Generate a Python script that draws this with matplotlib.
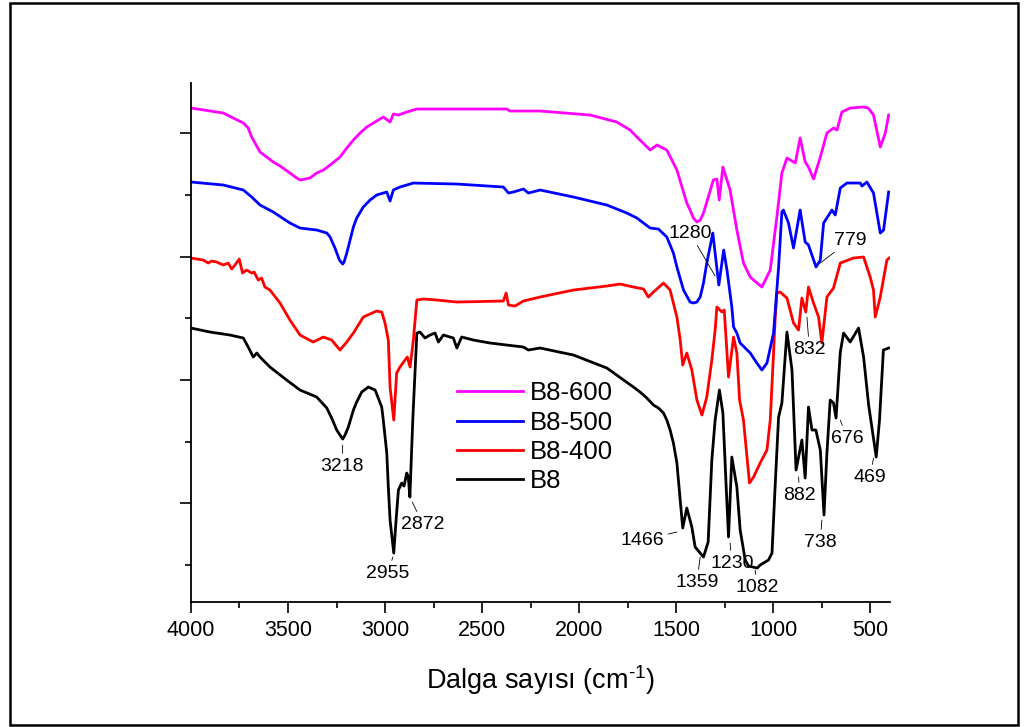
import matplotlib
matplotlib.use("Agg")
import matplotlib.pyplot as plt
from matplotlib.patches import Rectangle
from matplotlib.ticker import MultipleLocator

# FTIR spectra (wavenumber in cm-1, offset transmittance in arbitrary units)
b8_600_wn = [4000, 3833, 3782, 3730, 3705, 3687, 3670, 3644, 3610, 3576, 3541, 3490,
             3455, 3438, 3412, 3387, 3352, 3318, 3283, 3232, 3197, 3163, 3129, 3094,
             3060, 3009, 2974, 2957, 2931, 2888, 2836, 2600, 2373, 2356, 2201, 1943,
             1806, 1737, 1702, 1634, 1599, 1548, 1496, 1445, 1428, 1411, 1393, 1376,
             1359, 1308, 1290, 1278, 1259, 1222, 1187, 1153, 1118, 1101, 1058, 1015,
             981, 955, 929, 886, 861, 835, 818, 792, 757, 723, 689, 671, 646, 603,
             534, 510, 483, 448, 422, 405]
b8_600_t = [494, 489, 484, 479, 474, 465, 459, 450, 445, 440, 436, 429,
            424, 422, 423, 424, 429, 432, 437, 445, 454, 462, 469, 475,
            479, 485, 480, 488, 487, 490, 493, 493, 493, 491, 491, 487,
            480, 472, 465, 452, 457, 452, 432, 399, 392, 384, 380, 382,
            389, 422, 423, 402, 435, 412, 372, 339, 325, 322, 315, 332,
            385, 429, 444, 439, 464, 440, 435, 423, 445, 469, 474, 472, 490, 494,
            495, 494, 487, 455, 469, 487]

b8_500_wn = [4000, 3833, 3730, 3687, 3644, 3576, 3490, 3438, 3352, 3300, 3283, 3258,
             3235, 3218, 3211, 3197, 3180, 3163, 3146, 3112, 3077, 3043, 2991, 2974,
             2957, 2923, 2854, 2630, 2390, 2364, 2339, 2287, 2261, 2201, 2029, 1857,
             1754, 1702, 1634, 1591, 1548, 1514, 1496, 1462, 1428, 1411, 1393, 1376,
             1359, 1342, 1311, 1280, 1255, 1238, 1213, 1204, 1187, 1170, 1118, 1084,
             1058, 1032, 998, 972, 955, 947, 921, 895, 861, 835, 818, 779, 757, 740,
             697, 680, 654, 620, 551, 542, 517, 483, 448, 431, 405]
b8_500_t = [420, 417, 412, 405, 397, 390, 379, 374, 372, 369, 365, 354,
            342, 338, 340, 349, 362, 375, 384, 395, 402, 407, 410, 401,
            412, 415, 419, 418, 415, 409, 410, 413, 409, 412, 405, 397,
            389, 384, 374, 373, 365, 349, 335, 312, 300, 299, 300, 305,
            319, 339, 369, 317, 352, 332, 295, 275, 269, 259, 249, 239,
            232, 239, 269, 335, 390, 392, 379, 354, 392, 360, 357, 335, 342, 379,
            392, 387, 414, 419, 419, 416, 420, 409, 369, 372, 410]

b8_400_wn = [4000, 3937, 3911, 3893, 3868, 3833, 3808, 3790, 3773, 3751, 3734, 3713,
             3687, 3675, 3653, 3636, 3619, 3593, 3541, 3490, 3438, 3370, 3318, 3275,
             3232, 3197, 3163, 3112, 3043, 3017, 3000, 2983, 2974, 2955, 2940, 2923,
             2897, 2885, 2871, 2854, 2845, 2836, 2802, 2733, 2630, 2390, 2376, 2364,
             2330, 2287, 2201, 2029, 1857, 1789, 1720, 1668, 1643, 1617, 1565, 1531,
             1496, 1479, 1466, 1445, 1419, 1393, 1367, 1342, 1316, 1299, 1290, 1264,
             1252, 1230, 1204, 1187, 1173, 1153, 1122, 1101, 1067, 1032, 1015, 998,
             990, 981, 964, 929, 895, 869, 852, 832, 818, 792, 766, 749, 723, 689,
             654, 586, 534, 500, 483, 474, 448, 414, 402]
b8_400_t = [344, 342, 339, 341, 340, 337, 339, 333, 337, 343, 329, 332,
            329, 330, 322, 324, 315, 312, 299, 282, 267, 260, 265, 262,
            252, 260, 269, 285, 291, 290, 279, 262, 215, 182, 229, 235,
            242, 245, 235, 262, 282, 302, 303, 302, 300, 301, 309, 297,
            296, 301, 305, 312, 316, 318, 315, 313, 305, 310, 319, 312,
            285, 262, 237, 249, 232, 202, 187, 205, 242, 272, 295, 290,
            292, 225, 265, 249, 202, 182, 119, 125, 139, 152, 182, 249,
            282, 309, 310, 304, 279, 272, 304, 290, 315, 299, 285, 259, 305, 314,
            339, 344, 345, 325, 312, 285, 305, 342, 344]

b8_wn = [4000, 3902, 3799, 3730, 3705, 3679, 3661, 3644, 3593, 3507, 3438, 3352,
         3300, 3275, 3249, 3232, 3218, 3206, 3189, 3163, 3146, 3120, 3086, 3051,
         3017, 3009, 2991, 2983, 2974, 2955, 2943, 2931, 2914, 2902, 2888, 2880,
         2872, 2857, 2836, 2820, 2794, 2768, 2742, 2725, 2699, 2648, 2630, 2605,
         2545, 2459, 2287, 2261, 2201, 2029, 1857, 1720, 1686, 1651, 1617, 1591,
         1565, 1548, 1531, 1514, 1496, 1479, 1466, 1445, 1419, 1402, 1359, 1335,
         1316, 1299, 1277, 1259, 1242, 1230, 1213, 1187, 1170, 1144, 1127, 1082,
         1067, 1024, 1006, 990, 972, 955, 929, 903, 882, 852, 835, 818, 800, 780,
         757, 738, 723, 706, 689, 676, 654, 637, 603, 560, 534, 508, 469, 452, 432, 405]
b8_t = [274, 270, 267, 264, 255, 245, 249, 245, 235, 222, 212, 205,
        194, 184, 172, 167, 163, 167, 175, 192, 200, 210, 215, 212,
        195, 182, 149, 115, 82, 49, 82, 112, 119, 116, 129, 125,
        105, 182, 269, 270, 264, 267, 269, 260, 267, 264, 254, 265,
        262, 259, 255, 252, 254, 247, 234, 215, 210, 204, 197, 194,
        189, 182, 172, 159, 139, 102, 74, 94, 75, 55, 45, 60,
        142, 182, 212, 189, 115, 65, 145, 115, 72, 42, 36, 34,
        37, 42, 49, 115, 185, 199, 270, 232, 132, 162, 124, 195, 172, 172,
        152, 87, 149, 202, 199, 184, 250, 269, 260, 274, 245, 197, 145, 182, 252, 254]

series = [("B8", b8_wn, b8_t, "#000000"),
          ("B8-400", b8_400_wn, b8_400_t, "#ff0000"),
          ("B8-500", b8_500_wn, b8_500_t, "#0000ff"),
          ("B8-600", b8_600_wn, b8_600_t, "#ff00ff")]

# peak labels: (text, peak position, label position)
peak_labels = [("3218", (3218, 157), (3222, 136)),
               ("2955", (2960, 45), (2984, 29)),
               ("2872", (2860, 100), (2804, 78)),
               ("1466", (1496, 70), (1675, 62)),
               ("1359", (1376, 45), (1393, 20)),
               ("1230", (1222, 59), (1213, 39)),
               ("1082", (1093, 32), (1084, 15)),
               ("882", (869, 125), (864, 107)),
               ("738", (749, 82), (757, 60)),
               ("676", (654, 182), (620, 164)),
               ("469", (483, 144), (500, 125)),
               ("1280", (1299, 326), (1428, 369)),
               ("779", (757, 339), (603, 362)),
               ("832", (826, 285), (813, 253))]

plt.rcParams["font.family"] = "Liberation Sans"
plt.rcParams["mathtext.fontset"] = "custom"
plt.rcParams["mathtext.rm"] = "Liberation Sans"
plt.rcParams["mathtext.it"] = "Liberation Sans:italic"

fig = plt.figure(figsize=(10.25, 7.27), dpi=100)
ax = fig.add_axes([0.1863, 0.1719, 0.6816, 0.7139])

lines = {}
for name, wn, t, color in series:
    lines[name], = ax.plot(wn, t, color=color, lw=2.0, label=name,
                           solid_joinstyle="round")

ax.set_xlim(4000, 400)
ax.set_ylim(0, 519)
ax.xaxis.set_major_locator(MultipleLocator(500))
ax.xaxis.set_minor_locator(MultipleLocator(250))
ax.set_yticks([99, 222, 345, 469])
ax.set_yticks([37, 160, 284, 407], minor=True)
ax.tick_params(axis="both", which="major", direction="out", length=8, width=1.2,
               labelsize=15.5, pad=5)
ax.tick_params(axis="both", which="minor", direction="out", length=4.5, width=1.2)
ax.tick_params(axis="y", labelleft=False)
for side in ("top", "right"):
    ax.spines[side].set_visible(False)
for side in ("left", "bottom"):
    ax.spines[side].set_linewidth(1.3)

ax.set_xlabel("Dalga sayısı (cm$^{\\mathregular{\u2010}\\mathregular{1}}$)",
              fontsize=19.5, labelpad=16)

order = ["B8-600", "B8-500", "B8-400", "B8"]
leg = ax.legend([lines[n] for n in order], order, loc="upper left",
                bbox_to_anchor=(0.381, 0.425), frameon=False, fontsize=18.5,
                handlelength=2.55, handletextpad=0.3, labelspacing=0.2,
                borderpad=0, borderaxespad=0)

for text, xy, xyt in peak_labels:
    ax.annotate(text, xy=xy, xytext=xyt, ha="center", va="center", fontsize=14,
                arrowprops=dict(arrowstyle="-", lw=0.6, color="black",
                                shrinkA=1, shrinkB=0))

fig.patches.append(Rectangle((9.5 / 1025, 2 / 727), 1008 / 1025, 722.5 / 727,
                             transform=fig.transFigure, fill=False,
                             edgecolor="black", lw=1.8))

fig.savefig("out.png", dpi=100)
